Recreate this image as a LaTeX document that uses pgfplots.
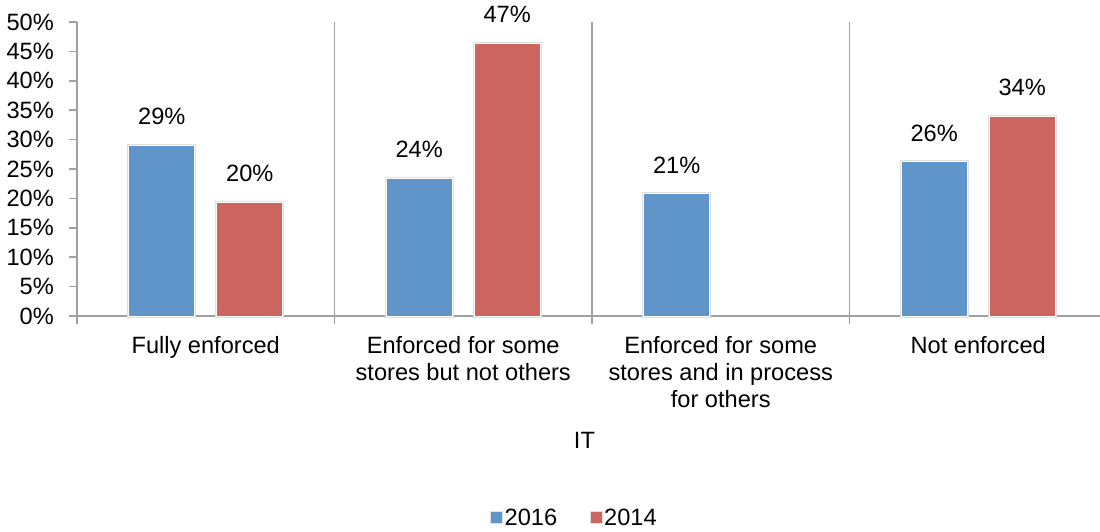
\documentclass[border=0pt]{standalone}
\usepackage{fontspec}
\setmainfont{Liberation Sans}
\usepackage{pgfplots}
\pgfplotsset{compat=1.18}
\usepackage{pgfplotstable}
\definecolor{c16}{RGB}{96,149,201}
\definecolor{c14}{RGB}{204,101,95}
\definecolor{axgray}{RGB}{160,160,160}

\pgfplotstableread{
x y lab
0 29.0 29
1 23.4 24
2 20.8 21
3 26.2 26
}\datasixteen
\pgfplotstableread{
x y lab
0 19.3 20
1 46.4 47
3 33.9 34
}\datafourteen

\begin{document}
\begin{tikzpicture}[font=\fontsize{23.6}{27}\selectfont]
\path[use as bounding box] (0,0) rectangle (1100pt,531pt);
\begin{axis}[
  at={(77pt,215pt)}, anchor=south west,
  width=1023pt, height=294pt, scale only axis,
  xmin=-0.5, xmax=3.473, ymin=0, ymax=50,
  axis lines=left,
  axis line style={-, draw=axgray, line width=1.5pt},
  clip=false,
  /pgf/number format/assume math mode=true,
  ytick={0,5,...,50},
  yticklabel={\pgfmathprintnumber{\tick}\%},
  yticklabel style={inner sep=0pt, xshift=-15pt},
  tick align=outside,
  major tick length=8pt,
  tick style={draw=axgray, line width=1.5pt},
  xtick={-0.5,0.5,1.5,2.5},
  xticklabels={,,,},
  xmajorgrids,
  grid style={draw=axgray, line width=1.5pt},
  extra x ticks={0,1,2,3},
  extra x tick labels={Fully enforced, {Enforced for some\\stores but not others}, {Enforced for some\\stores and in process\\for others}, Not enforced},
  extra x tick style={grid=none, major tick length=0pt,
    xticklabel style={align=center, anchor=north, inner sep=0pt, yshift=-20pt}},
  ybar, bar width=66pt,
  point meta=explicit symbolic,
  nodes near coords={\pgfplotspointmeta\%},
  every node near coord/.append style={inner sep=0pt, anchor=south, yshift=20pt, text=black},
  every axis plot/.append style={draw=white, line width=1pt, preaction={draw=black!12, line width=3pt}},
  xlabel={IT},
  xlabel style={at={(axis description cs:0.496,-0.4218)}, anchor=center, inner sep=0pt},
  legend columns=2,
  legend style={at={(axis description cs:0.486,-0.687)}, anchor=center, draw=none, fill=none,
    inner sep=0pt, /tikz/every even column/.append style={column sep=31pt},
    nodes={inner sep=1.5pt}},
]
\addplot[fill=c16, bar shift=-44pt, forget plot] table[x=x, y=y, meta=lab] {\datasixteen};
\addplot[fill=c14, bar shift=44pt, forget plot] table[x=x, y=y, meta=lab] {\datafourteen};
\addlegendimage{legend image code/.code={\fill[c16] (0pt,-5pt) rectangle (10pt,5pt);}}
\addlegendentry{2016}
\addlegendimage{legend image code/.code={\fill[c14] (0pt,-5pt) rectangle (10pt,5pt);}}
\addlegendentry{2014}
\end{axis}
\end{tikzpicture}
\end{document}
